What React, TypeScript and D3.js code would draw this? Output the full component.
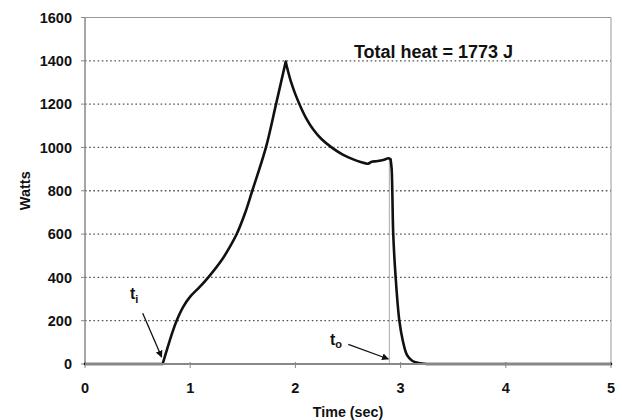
import React from "react";
import * as d3 from "d3";

const timeSec = [0, 0.5, 0.738, 0.78, 0.83, 0.871, 0.935, 1.0, 1.093, 1.172, 1.3, 1.37, 1.442, 1.52, 1.59, 1.72, 1.816, 1.908, 1.93, 1.96, 2.0, 2.05, 2.1, 2.17, 2.25, 2.35, 2.45, 2.55, 2.62, 2.69, 2.725, 2.77, 2.804, 2.85, 2.883, 2.905, 2.915, 2.921, 2.93, 2.953, 2.988, 3.02, 3.06, 3.11, 3.17, 3.25, 4, 5];
const watts = [0, 0, 0, 68, 145, 200, 265, 311, 357, 400, 480, 535, 600, 695, 800, 1000, 1200, 1396, 1352, 1300, 1245, 1187, 1137, 1083, 1038, 998, 967, 945, 933, 925, 934, 936, 939, 944, 950, 945, 900, 800, 600, 400, 200, 110, 42, 15, 5, 0, 0, 0];
// times where the curve has a cusp (onset, peak, cut-off, return to zero)
const cuspTimes = [0.738, 1.908, 2.905, 3.25];
const xTicks = [0, 1, 2, 3, 4, 5];
const yTicks = [0, 200, 400, 600, 800, 1000, 1200, 1400, 1600];
const gridValues = [200, 400, 600, 800, 1000, 1200, 1400];
const tiTime = 0.738;
const toTime = 2.893;
const toTop = 950;
const annotation = "Total heat = 1773 J";

const W = 622, H = 420;
const L = 85, R = 611, T = 17.5, B = 364;
const FONT = "'Liberation Sans', Arial, sans-serif";

export default function App() {
  const x = d3.scaleLinear().domain([0, 5]).range([L, R]);
  const y = d3.scaleLinear().domain([0, 1600]).range([B, T]);
  const pts: [number, number][] = timeSec.map((t, i) => [t, watts[i]]);
  const cuts = [0, ...cuspTimes.map((c) => timeSec.indexOf(c)), pts.length - 1];
  const line = d3.line<[number, number]>().x((d) => x(d[0])).y((d) => y(d[1])).curve(d3.curveCatmullRom.alpha(0.5));
  let path = "";
  for (let k = 0; k < cuts.length - 1; k++) {
    path += line(pts.slice(cuts[k], cuts[k + 1] + 1)) || "";
  }

  return (
    <svg width={W} height={H} style={{ position: "absolute", left: 0, top: 0, background: "#fff" }} fontFamily={FONT}>
      <defs>
        <marker id="arr" viewBox="0 0 10 10" refX="9" refY="5" markerWidth="7" markerHeight="7" orient="auto" markerUnits="userSpaceOnUse">
          <path d="M0,0 L10,5 L0,10 z" fill="#111" />
        </marker>
      </defs>
      {gridValues.map((v) => (
        <line key={v} x1={L} x2={R} y1={y(v)} y2={y(v)} stroke="#555" strokeWidth={1.3} strokeDasharray="1.6,2.6" />
      ))}
      <line x1={L} x2={R} y1={T} y2={T} stroke="#999" strokeWidth={1} />
      <line x1={R} x2={R} y1={T} y2={B} stroke="#999" strokeWidth={1} />
      <line x1={L} x2={L} y1={T} y2={B} stroke="#888" strokeWidth={1.5} />
      {yTicks.map((v) => (
        <g key={v}>
          <line x1={L - 4} x2={L} y1={y(v)} y2={y(v)} stroke="#888" strokeWidth={1} />
          <text x={72} y={y(v)} dy="0.36em" textAnchor="end" fontSize={14.5} fontWeight="bold" fill="#111">{v}</text>
        </g>
      ))}
      {xTicks.map((v) => (
        <g key={v}>
          <line x1={x(v)} x2={x(v)} y1={B - 2} y2={B + 4} stroke="#888" strokeWidth={1} />
          <text x={x(v)} y={388} dy="0.36em" textAnchor="middle" fontSize={14.5} fontWeight="bold" fill="#111">{v}</text>
        </g>
      ))}
      <line x1={x(toTime)} x2={x(toTime)} y1={y(toTop)} y2={B} stroke="#aaa" strokeWidth={1} />
      <path d={path} fill="none" stroke="#111" strokeWidth={2.6} strokeLinejoin="round" strokeLinecap="round" />
      <line x1={L} x2={R} y1={B} y2={B} stroke="#888" strokeWidth={2} />
      <text x={(L + R) / 2} y={411.5} dy="0.36em" textAnchor="middle" fontSize={14.3} fontWeight="bold" fill="#111">Time (sec)</text>
      <text transform={`translate(25,${(T + B) / 2}) rotate(-90)`} textAnchor="middle" dy="0.36em" fontSize={14.5} fontWeight="bold" fill="#111">Watts</text>
      <text x={433.5} y={58.3} textAnchor="middle" fontSize={18} fontWeight="bold" fill="#111">{annotation}</text>
      <text x={130} y={299} fontSize={16} fontWeight="bold" fill="#111">t<tspan fontSize={11} dy="4">i</tspan></text>
      <line x1={142.7} y1={313.3} x2={x(tiTime) - 1} y2={B - 7} stroke="#111" strokeWidth={1.3} markerEnd="url(#arr)" />
      <text x={330} y={345} fontSize={16} fontWeight="bold" fill="#111">t<tspan fontSize={11} dy="3">o</tspan></text>
      <line x1={348.3} y1={344.3} x2={x(toTime) - 1} y2={B - 5} stroke="#111" strokeWidth={1.3} markerEnd="url(#arr)" />
    </svg>
  );
}
